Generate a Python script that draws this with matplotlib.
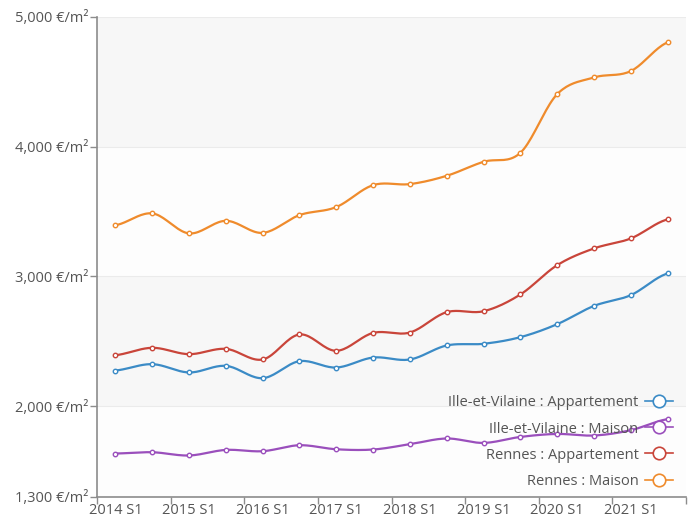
import numpy as np
import matplotlib
matplotlib.use("Agg")
import matplotlib.pyplot as plt
from matplotlib.lines import Line2D
from matplotlib.ticker import FuncFormatter


# =========================
# DONNÉES
# =========================

periodes = [
    "2014 S1", "2014 S2", "2015 S1", "2015 S2", "2016 S1", "2016 S2",
    "2017 S1", "2017 S2", "2018 S1", "2018 S2", "2019 S1", "2019 S2",
    "2020 S1", "2020 S2", "2021 S1", "2021 S2",
]

iv_appartement = [2275, 2324, 2260, 2311, 2216, 2347, 2298, 2375,
                  2360, 2468, 2481, 2532, 2632, 2773, 2856, 3023]
iv_maison = [1635, 1645, 1620, 1663, 1653, 1699, 1668, 1666,
             1707, 1751, 1717, 1763, 1786, 1774, 1815, 1900]
rennes_appartement = [2393, 2450, 2401, 2442, 2360, 2553, 2427, 2565,
                      2568, 2725, 2732, 2861, 3087, 3216, 3293, 3440]
rennes_maison = [3395, 3486, 3332, 3429, 3336, 3473, 3535, 3704,
                 3712, 3776, 3884, 3953, 4405, 4534, 4583, 4804]

series = [
    ("Ille-et-Vilaine : Appartement", iv_appartement, "#3b8bc6"),
    ("Ille-et-Vilaine : Maison", iv_maison, "#9a4fbc"),
    ("Rennes : Appartement", rennes_appartement, "#c9453a"),
    ("Rennes : Maison", rennes_maison, "#ef8b2c"),
]

graduations_y = [1300, 2000, 3000, 4000, 5000]

GRIS_TEXTE = "#555555"
GRIS_AXE = "#8c8c8c"


# =========================
# FONCTIONS
# =========================

def courbe_lissee(y, pas=20):
    """
    Lissage Catmull-Rom entre les points (comme le trait 'smooth' du graphique).
    """
    y = np.asarray(y, dtype=float)
    n = len(y)
    xs, ys = [], []
    for i in range(n - 1):
        p0 = y[max(i - 1, 0)]
        p1 = y[i]
        p2 = y[i + 1]
        p3 = y[min(i + 2, n - 1)]
        m1 = (p2 - p0) / 2
        m2 = (p3 - p1) / 2
        t = np.linspace(0, 1, pas, endpoint=False)
        h00 = 2 * t**3 - 3 * t**2 + 1
        h10 = t**3 - 2 * t**2 + t
        h01 = -2 * t**3 + 3 * t**2
        h11 = t**3 - t**2
        xs.append(i + t)
        ys.append(h00 * p1 + h10 * m1 + h01 * p2 + h11 * m2)
    xs.append(np.array([n - 1]))
    ys.append(np.array([y[-1]]))
    return np.concatenate(xs), np.concatenate(ys)


# =========================
# FIGURE
# =========================

plt.rcParams["font.family"] = ["Open Sans", "DejaVu Sans"]
TAILLE = 10.5

fig = plt.figure(figsize=(6.97, 5.21), dpi=100)
ax = fig.add_axes([97 / 697, 24 / 521, 589 / 697, 480 / 521])
ax.set_facecolor("#fdfdfd")

# bandes alternées
ax.axhspan(2000, 3000, color="#f7f7f7", zorder=0, lw=0)
ax.axhspan(4000, 5000, color="#f7f7f7", zorder=0, lw=0)
for v in graduations_y[1:]:
    ax.axhline(v, color="#ebebeb", lw=0.8, zorder=1)

x = np.arange(len(periodes))
for nom, valeurs, couleur in series:
    xl, yl = courbe_lissee(valeurs)
    ax.plot(xl, yl, color=couleur, lw=1.6, zorder=3, solid_capstyle="round")
    ax.plot(x, valeurs, ls="none", marker="o", ms=3.2, mfc="white",
            mec=couleur, mew=1.0, zorder=4)

ax.set_xlim(-0.5, len(periodes) - 0.5)
ax.set_ylim(1300, 5000)

# axe x : traits entre les années, étiquettes au centre des S1
ax.set_xticks(np.arange(-0.5, len(periodes), 2))
ax.set_xticklabels([])
ax.set_xticks(x[::2], minor=True)
ax.set_xticklabels(periodes[::2], minor=True)
ax.tick_params(axis="x", which="major", length=5, color=GRIS_AXE, width=1)
ax.tick_params(axis="x", which="minor", length=0, pad=4,
               labelsize=TAILLE, labelcolor=GRIS_TEXTE)

ax.set_yticks(graduations_y)
ax.yaxis.set_major_formatter(FuncFormatter(lambda v, p: f"{v:,.0f} €/m²"))
ax.tick_params(axis="y", length=5, color=GRIS_AXE, width=1, pad=1,
               labelsize=TAILLE, labelcolor=GRIS_TEXTE)

for cote in ["top", "right"]:
    ax.spines[cote].set_visible(False)
for cote in ["left", "bottom"]:
    ax.spines[cote].set_color(GRIS_AXE)
    ax.spines[cote].set_linewidth(1.2)

# légende à droite, marqueur après le texte
poignees = [
    Line2D([], [], color=c, lw=1.2, marker="o", ms=9, mfc="white", mec=c, mew=1.2)
    for _, _, c in series
]
leg = ax.legend(
    poignees, [s[0] for s in series],
    loc="lower right", bbox_to_anchor=(1.0, -0.01),
    markerfirst=False, frameon=False,
    fontsize=TAILLE, labelcolor=GRIS_TEXTE,
    handlelength=1.9, handletextpad=0.45, labelspacing=0.76,
)
leg.set_zorder(5)

fig.savefig("out.png", dpi=100)
